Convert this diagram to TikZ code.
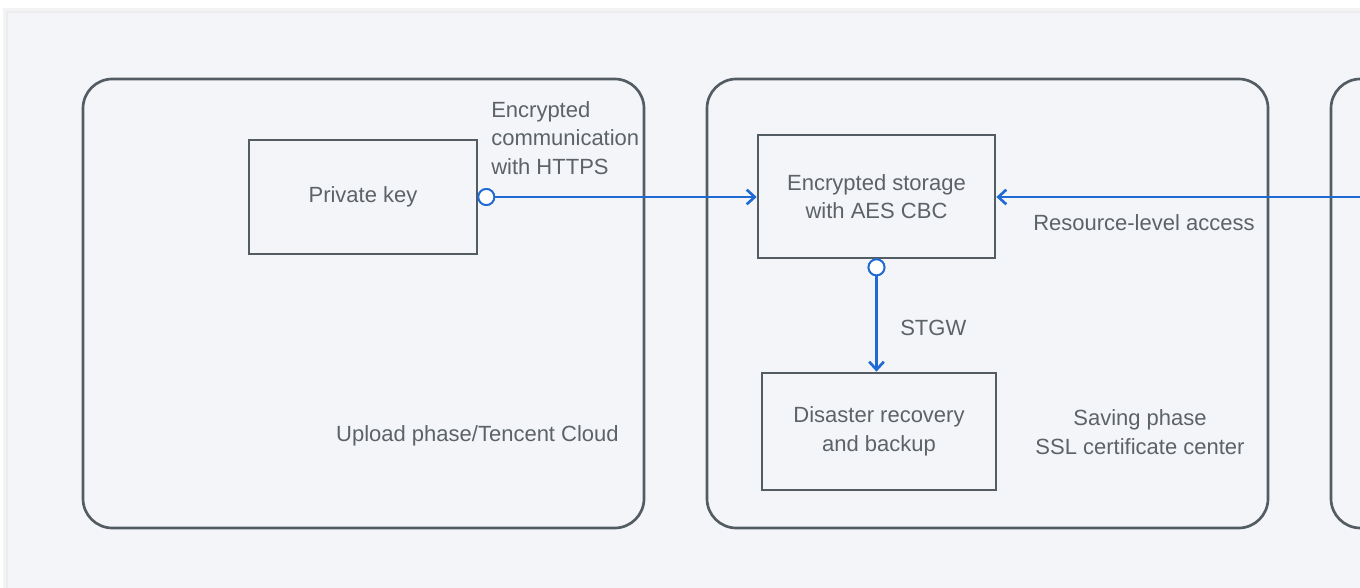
\documentclass[tikz,border=0pt]{standalone}
\usepackage{fontspec}
\setmainfont{Liberation Sans}
\usetikzlibrary{arrows.meta}
\definecolor{panelbg}{HTML}{F4F5F9}
\definecolor{shadowa}{HTML}{F3F3F4}
\definecolor{shadowb}{HTML}{ECECEE}
\definecolor{edgec}{HTML}{525C62}
\definecolor{txtc}{HTML}{5C6368}
\definecolor{linkc}{HTML}{1F6AD3}
\begin{document}
\begin{tikzpicture}[x=0.75pt,y=-0.75pt,
  group/.style={draw=edgec, line width=2pt, rounded corners=22pt, inner sep=0pt},
  box/.style={draw=edgec, line width=2pt, inner sep=0pt},
  lbl/.style={text=txtc, font=\fontsize{16.5}{21.5}\selectfont, inner sep=0pt},
  flow/.style={draw=linkc, line width=2pt, -{Straight Barb[length=6pt,width=11pt,line width=2pt]}},
  dot/.style={circle, draw=linkc, fill=white, line width=1.4pt, minimum size=12pt, inner sep=0pt}]
\useasboundingbox (0,0) rectangle (1360,588);
\clip (0,0) rectangle (1360,588);
\fill[white] (0,0) rectangle (1360,588);
\fill[shadowa] (3,8) rectangle (1370,600);
\fill[shadowb] (6,11) rectangle (1370,600);
\fill[panelbg] (8,13) rectangle (1370,600);

% groups
\node[group, minimum width=420.75pt, minimum height=336.75pt] (g1) at (363.5,303.5) {};
\node[group, minimum width=420.75pt, minimum height=336.75pt] (g2) at (987.5,303.5) {};
\node[group, minimum width=420.75pt, minimum height=336.75pt] (g3) at (1611.5,303.5) {};

% boxes
\node[box, minimum width=171pt, minimum height=85.5pt] (pk) at (363,197) {};
\node[lbl] (pkt) at (pk.center) {Private key};
\node[box, minimum width=177.75pt, minimum height=92.25pt] (st) at (876.5,196.5) {};
\node[lbl, align=center] (stt) at (st.center) {Encrypted storage\\with AES CBC};
\node[box, minimum width=175.5pt, minimum height=87.75pt] (dr) at (879,431.5) {};
\node[lbl, align=center] (drt) at (dr.center) {Disaster recovery\\and backup};

% labels
\node[lbl, align=left, anchor=west] (https) at (491,138) {Encrypted\\communication\\with HTTPS};
\node[lbl, anchor=west] (res) at (1033,223) {Resource-level access};
\node[lbl, anchor=west] (stgw) at (900,328) {STGW};
\node[lbl, anchor=east] (up) at (619,436) {Upload phase/Tencent Cloud};
\node[lbl, align=center] (sv) at (1140,432) {Saving phase\\SSL certificate center};

% connectors
\coordinate (src) at (1380,197);
\node[dot] (d1) at ([xshift=6pt]pk.east) {};
\node[dot] (d2) at ([yshift=-6pt]st.south) {};
\draw[flow] (d1.east) -- (d1.east -| st.west);
\draw[flow] (d2.south) -- (d2.south |- dr.north);
\draw[flow] (src) -- (src -| st.east);
\node[dot] at (d1) {};
\node[dot] at (d2) {};
\end{tikzpicture}
\end{document}
